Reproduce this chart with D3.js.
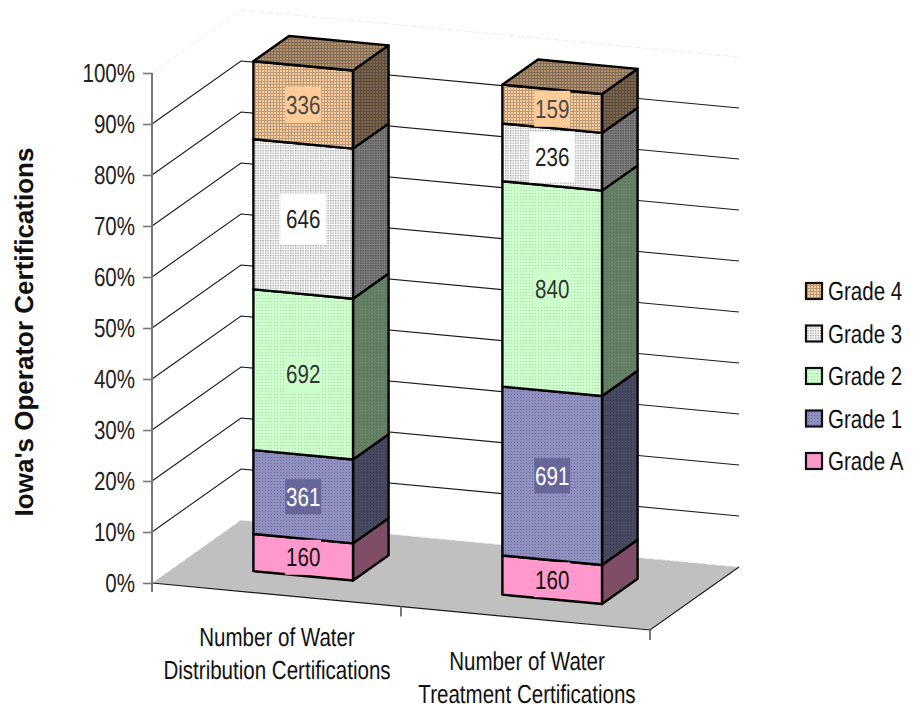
<!DOCTYPE html>
<html>
<head>
<meta charset="utf-8">
<script src="https://cdn.jsdelivr.net/npm/d3@7"></script>
<style>
  html, body { margin: 0; padding: 0; background: #fff; }
  text { font-family: "Liberation Sans", Arial, sans-serif; text-rendering: geometricPrecision; }
</style>
</head>
<body>
<div id="chart"></div>
<script>
const categories = ['Distribution', 'Treatment'];
const categoryLines = [
  ['Number of Water', 'Distribution Certifications'],
  ['Number of Water', 'Treatment Certifications']
];
const grades = ['Grade A', 'Grade 1', 'Grade 2', 'Grade 3', 'Grade 4'];
const gradeA = [160, 160];
const grade1 = [361, 691];
const grade2 = [692, 840];
const grade3 = [646, 236];
const grade4 = [336, 159];
const tickValues = [0, 0.1, 0.2, 0.3, 0.4, 0.5, 0.6, 0.7, 0.8, 0.9, 1];
const axisTitle = "Iowa's Operator Certifications";

const rows = categories.map((c, i) => ({
  cat: c,
  'Grade A': gradeA[i], 'Grade 1': grade1[i], 'Grade 2': grade2[i], 'Grade 3': grade3[i], 'Grade 4': grade4[i]
}));
const series = d3.stack().keys(grades).offset(d3.stackOffsetExpand)(rows);

// look of each grade, drawn with small svg patterns
const styles = {
  'Grade A': { base: '#ff99cc', line: null, kind: 'flat', text: '#111', bgW: 36, bgH: 35, bg: '#ff99cc' },
  'Grade 1': { base: '#9090c0', line: '#6c6c9c', kind: 'dots', text: '#fff', bgW: 36, bgH: 35, bg: '#666699' },
  'Grade 2': { base: '#ccffcc', line: '#a8dcb0', kind: 'dots', text: '#333', bgW: 36, bgH: 35, bg: '#ccffcc' },
  'Grade 3': { base: '#ffffff', line: '#a0a0a0', kind: 'fine', text: '#222', bgW: 46, bgH: 51, bg: '#ffffff' },
  'Grade 4': { base: '#ffcc99', line: '#b89a7c', kind: 'grid', text: '#4a4a4a', bgW: 36, bgH: 36, bg: '#ffcc99' }
};

const svg = d3.select('#chart').append('svg').attr('width', 922).attr('height', 708).style('display', 'block');
const defs = svg.append('defs');

function shade(col, k) {
  const c = d3.rgb(col);
  return d3.rgb(c.r * k, c.g * k, c.b * k).formatHex();
}

function addPattern(id, name, k) {
  const st = styles[name];
  const size = st.kind === 'fine' ? 2.5 : 3;
  const p = defs.append('pattern').attr('id', id).attr('patternUnits', 'userSpaceOnUse').attr('width', size).attr('height', size);
  p.append('rect').attr('width', size).attr('height', size).attr('fill', shade(st.base, k));
  if (st.kind === 'grid') {
    p.append('rect').attr('width', size).attr('height', 1).attr('fill', shade(st.line, k));
    p.append('rect').attr('width', 1).attr('height', size).attr('fill', shade(st.line, k));
  } else if (st.kind === 'fine') {
    p.append('rect').attr('width', 1.4).attr('height', 1.4).attr('fill', shade(st.line, k));
  } else if (st.kind === 'dots') {
    p.append('rect').attr('x', 1).attr('y', 1).attr('width', 1).attr('height', 1).attr('fill', shade(st.line, k));
  }
}

const key = n => n.replace(' ', '');
grades.forEach(g => {
  addPattern('front' + key(g), g, 1);
  addPattern('side' + key(g), g, 0.5);
  addPattern('top' + key(g), g, 0.7);
});

// oblique projection: category position u, depth v, share val
const xAcross = 498, yAcross = 47, xDeep = 89, yDeep = -63;
const originX = 152;
const yShare = d3.scaleLinear().domain([0, 1]).range([583, 73]);
const uScale = d3.scaleBand().domain(categories).range([0, 1]).paddingInner(0.6).paddingOuter(0.3);
const vNear = 0.3, vFar = 0.7;

function project(u, v, val) {
  return [originX + u * xAcross + v * xDeep, yShare(val) + u * yAcross + v * yDeep];
}
const poly = pts => pts.map(p => p.join(',')).join(' ');

// floor
svg.append('polygon')
  .attr('points', poly([project(0, 0, 0), project(1, 0, 0), project(1, 1, 0), project(0, 1, 0)]))
  .attr('fill', '#c0c0c0');

// gridlines on the two walls
tickValues.forEach(t => {
  const a = project(0, 0, t), b = project(0, 1, t), c = project(1, 1, t);
  const edge = t === 0 || t === 1;
  svg.append('polyline')
    .attr('points', poly([a, b, c]))
    .attr('fill', 'none')
    .attr('stroke', edge ? '#eeeeee' : '#1a1a1a')
    .attr('stroke-width', edge ? 1 : 1.1)
    .attr('stroke-dasharray', edge ? '6 3' : null);
});

// bars
const barG = svg.append('g');
const outline = { stroke: '#000', width: 2.4 };
categories.forEach((cat, ci) => {
  const u0 = uScale(cat), u1 = u0 + uScale.bandwidth();
  series.forEach(s => {
    const name = s.key, y0 = s[ci][0], y1 = s[ci][1];
    const side = [project(u1, vNear, y0), project(u1, vFar, y0), project(u1, vFar, y1), project(u1, vNear, y1)];
    const front = [project(u0, vNear, y0), project(u1, vNear, y0), project(u1, vNear, y1), project(u0, vNear, y1)];
    [['side', side], ['front', front]].forEach(d => {
      barG.append('polygon').attr('points', poly(d[1])).attr('fill', `url(#${d[0]}${key(name)})`)
        .attr('stroke', outline.stroke).attr('stroke-width', outline.width).attr('stroke-linejoin', 'round');
    });
    if (name === 'Grade 4') {
      const top = [project(u0, vNear, y1), project(u1, vNear, y1), project(u1, vFar, y1), project(u0, vFar, y1)];
      barG.append('polygon').attr('points', poly(top)).attr('fill', `url(#top${key(name)})`)
        .attr('stroke', outline.stroke).attr('stroke-width', outline.width).attr('stroke-linejoin', 'round');
    }
  });
});

const textScaleX = 0.79;
const fontSize = 26;
function label(parent, x, y, str, anchor, fill) {
  return parent.append('text')
    .attr('transform', `translate(${x},${y}) scale(${textScaleX},1)`)
    .attr('text-anchor', anchor)
    .attr('font-size', fontSize)
    .attr('fill', fill || '#111')
    .text(str);
}

// value labels with their filled boxes
categories.forEach((cat, ci) => {
  const uMid = uScale(cat) + uScale.bandwidth() / 2;
  series.forEach(s => {
    const st = styles[s.key];
    const p = project(uMid, vNear, (s[ci][0] + s[ci][1]) / 2);
    svg.append('rect').attr('x', p[0] - st.bgW / 2).attr('y', p[1] - st.bgH / 2)
      .attr('width', st.bgW).attr('height', st.bgH).attr('fill', st.bg);
    label(svg, p[0], p[1] + 9, rows[ci][s.key], 'middle', st.text);
  });
});

// front edges of the floor
svg.append('polyline')
  .attr('points', poly([project(0, 0, 0), project(1, 0, 0), project(1, 1, 0)]))
  .attr('fill', 'none').attr('stroke', '#1a1a1a').attr('stroke-width', 1.2);

// value axis
const axisG = svg.append('g').attr('transform', `translate(${originX},0)`)
  .call(d3.axisLeft(yShare).tickValues(tickValues).tickSize(9).tickPadding(0).tickFormat(d3.format('.0%')));
axisG.select('.domain').remove();
axisG.selectAll('.tick line').attr('stroke', '#777').attr('stroke-width', 1.6);
axisG.selectAll('.tick text').remove();
svg.append('line').attr('x1', originX).attr('x2', originX).attr('y1', yShare(1)).attr('y2', 592)
  .attr('stroke', '#777').attr('stroke-width', 2);
tickValues.forEach(t => label(svg, 135, yShare(t) + 9, d3.format('.0%')(t), 'end', '#222'));

// category ticks hanging under the floor
[0.5, 1].forEach(u => {
  const p = project(u, 0, 0);
  svg.append('line').attr('x1', p[0]).attr('x2', p[0]).attr('y1', p[1]).attr('y2', p[1] + 10)
    .attr('stroke', '#777').attr('stroke-width', 2);
});

// category labels
const catAnchors = [[277, 646, 679], [527, 670, 703]];
categoryLines.forEach((lines, i) => {
  const a = catAnchors[i];
  lines.forEach((ln, j) => label(svg, a[0], a[j + 1], ln, 'middle', '#111'));
});

// axis title
svg.append('text')
  .attr('transform', 'translate(33,332) rotate(-90)')
  .attr('text-anchor', 'middle')
  .attr('font-size', 26)
  .attr('font-weight', 'bold')
  .attr('fill', '#111')
  .text(axisTitle);

// legend
const legendOrder = grades.slice().reverse();
const legendY = d3.scalePoint().domain(legendOrder).range([291, 461]);
legendOrder.forEach(g => {
  const y = legendY(g);
  svg.append('rect').attr('x', 806).attr('y', y - 8).attr('width', 16).attr('height', 16)
    .attr('fill', `url(#front${key(g)})`).attr('stroke', '#111').attr('stroke-width', 2.2);
  label(svg, 828, y + 9, g, 'start', '#111');
});
</script>
</body>
</html>
